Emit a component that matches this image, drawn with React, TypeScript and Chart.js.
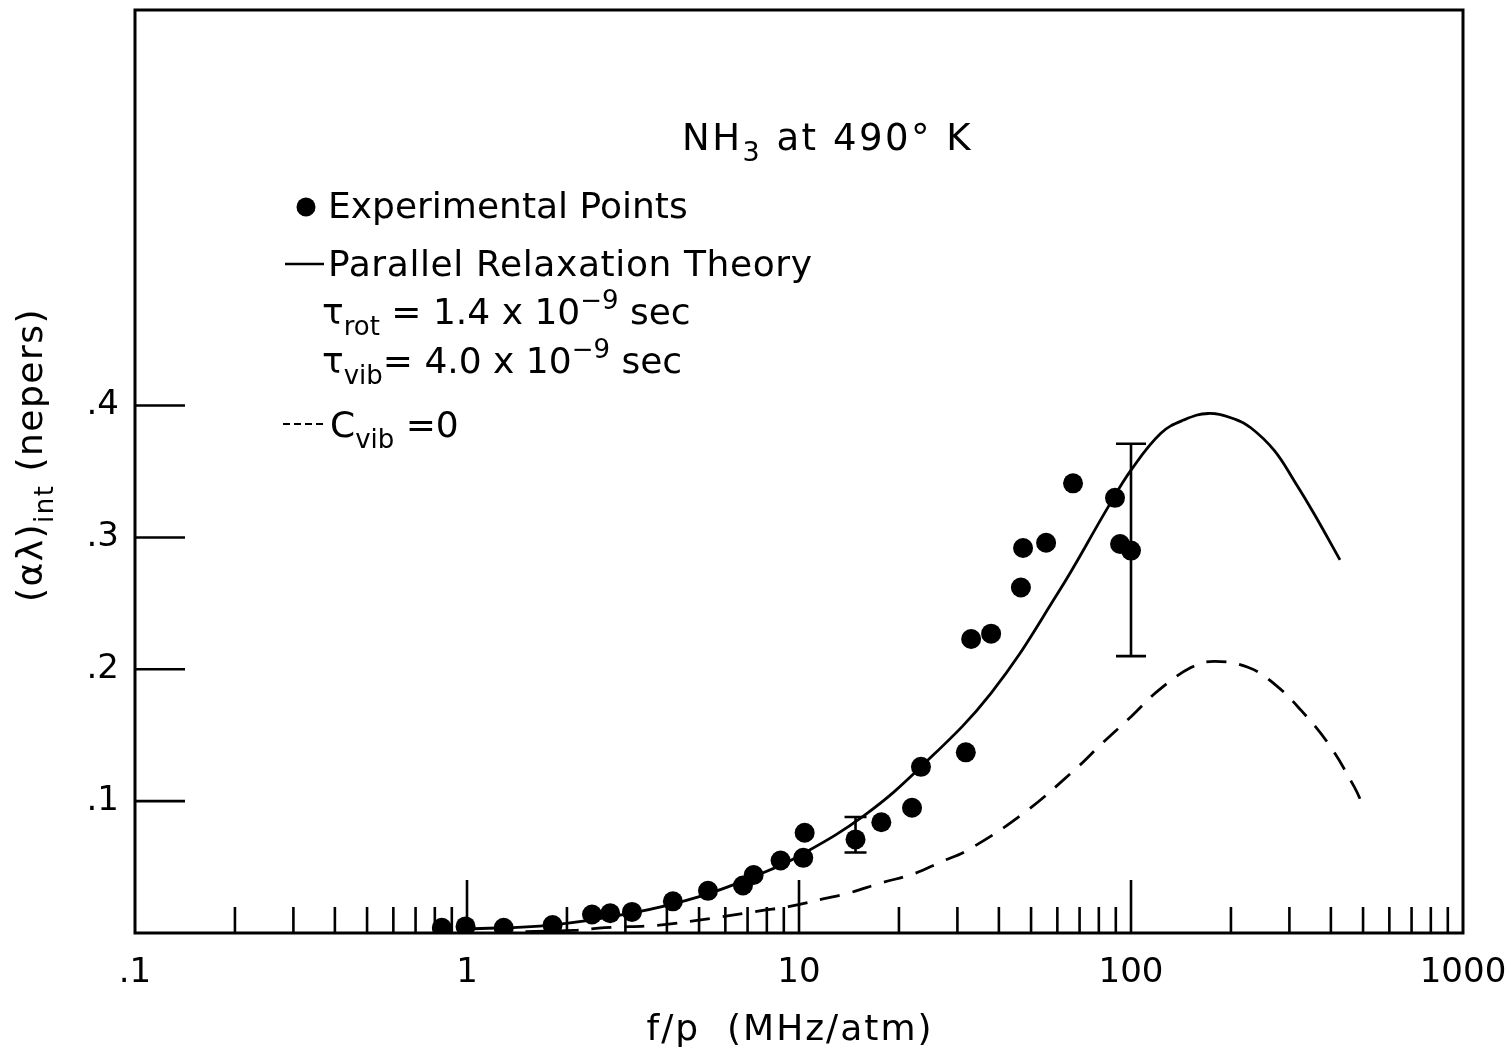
import React, { useEffect, useRef } from "react";
import { Chart, registerables } from "chart.js";

Chart.register(...registerables);

// ---------- data ----------
const expX = [0.84, 0.99, 1.29, 1.81, 2.38, 2.7, 3.14, 4.17, 5.32, 6.78, 7.3, 8.8, 10.3, 10.4, 14.8, 17.7, 21.9, 23.3, 31.8, 33.0, 37.9, 46.6, 47.3, 55.5, 66.9, 89.5, 92.7, 100];
const expY = [0.004, 0.005, 0.004, 0.006, 0.014, 0.015, 0.016, 0.024, 0.032, 0.036, 0.044, 0.055, 0.057, 0.076, 0.071, 0.084, 0.095, 0.126, 0.137, 0.223, 0.227, 0.262, 0.292, 0.296, 0.341, 0.330, 0.295, 0.290];

const theoryX = [1.0, 1.79, 3.12, 5.07, 7.69, 10.1, 15.7, 23.3, 37.9, 60.3, 85.3, 100, 123, 144, 171, 204, 230, 270, 310, 356, 426];
const theoryY = [0.003, 0.006, 0.015, 0.028, 0.045, 0.059, 0.089, 0.126, 0.182, 0.258, 0.323, 0.351, 0.379, 0.389, 0.394, 0.390, 0.383, 0.366, 0.343, 0.318, 0.283];

const cvibX = [1.5, 2.1, 2.6, 3.8, 5.4, 7.7, 9.3, 11.9, 14.0, 17.7, 22.2, 26.8, 32.3, 47.6, 69.2, 81.2, 100, 121, 152, 178, 225, 270, 325, 392, 470, 503];
const cvibY = [0.001, 0.002, 0.004, 0.006, 0.011, 0.017, 0.020, 0.026, 0.030, 0.038, 0.045, 0.054, 0.063, 0.091, 0.126, 0.143, 0.164, 0.184, 0.2015, 0.206, 0.2015, 0.189, 0.169, 0.144, 0.111, 0.095];

const errX = [14.8, 100];
const errLow = [0.061, 0.21];
const errHigh = [0.088, 0.371];

const xTickValues = [0.1, 1, 10, 100, 1000];
const xTickLabels = [".1", "1", "10", "100", "1000"];
const yTickValues = [0.1, 0.2, 0.3, 0.4];
const yTickLabels = [".1", ".2", ".3", ".4"];

// ---------- styling ----------
const FONT = "'DejaVu Sans', 'Open Sans', sans-serif";
const ERR_CAP_HALF = [11, 15];

type Seg = [string, ("n" | "sub" | "sup")?];

function drawRich(ctx: CanvasRenderingContext2D, x: number, y: number, segs: Seg[], size: number, align: "left" | "center" = "left") {
  const widthOf = (s: Seg) => {
    const k = s[1] || "n";
    ctx.font = `${k === "n" ? size : Math.round(size * 0.72)}px ${FONT}`;
    return ctx.measureText(s[0]).width;
  };
  let total = 0;
  segs.forEach((s) => (total += widthOf(s)));
  let cx = align === "center" ? x - total / 2 : x;
  ctx.textAlign = "left";
  ctx.textBaseline = "alphabetic";
  segs.forEach((s) => {
    const k = s[1] || "n";
    const w = widthOf(s);
    const dy = k === "sub" ? size * 0.3 : k === "sup" ? -size * 0.42 : 0;
    ctx.fillText(s[0], cx, y + dy);
    cx += w;
  });
}

const decorPlugin = {
  id: "decor",
  afterDatasetsDraw(chart: any) {
    const ctx: CanvasRenderingContext2D = chart.ctx;
    const { left, top, right, bottom } = chart.chartArea;
    const xs = chart.scales.x;
    const ys = chart.scales.y;
    ctx.save();
    ctx.strokeStyle = "#000";
    ctx.fillStyle = "#000";
    ctx.lineCap = "butt";

    // frame
    ctx.lineWidth = 3;
    ctx.strokeRect(left, top, right - left, bottom - top);

    // x ticks (inside, pointing up)
    ctx.lineWidth = 2.6;
    for (let d = -1; d < 3; d++) {
      for (let m = 1; m <= 9; m++) {
        if (d === -1 && m === 1) continue;
        const v = m * Math.pow(10, d);
        const px = xs.getPixelForValue(v);
        const len = m === 1 ? 53 : 26;
        ctx.beginPath();
        ctx.moveTo(px, bottom);
        ctx.lineTo(px, bottom - len);
        ctx.stroke();
      }
    }
    // y ticks (inside, pointing right)
    yTickValues.forEach((v) => {
      const py = ys.getPixelForValue(v);
      ctx.beginPath();
      ctx.moveTo(left, py);
      ctx.lineTo(left + 50, py);
      ctx.stroke();
    });

    // error bars
    errX.forEach((xv, i) => {
      const px = xs.getPixelForValue(xv);
      const y1 = ys.getPixelForValue(errLow[i]);
      const y2 = ys.getPixelForValue(errHigh[i]);
      const h = ERR_CAP_HALF[i];
      ctx.beginPath();
      ctx.moveTo(px, y1);
      ctx.lineTo(px, y2);
      ctx.moveTo(px - h, y1);
      ctx.lineTo(px + h, y1);
      ctx.moveTo(px - h, y2);
      ctx.lineTo(px + h, y2);
      ctx.stroke();
    });
    ctx.restore();
  },
  afterDraw(chart: any) {
    const ctx: CanvasRenderingContext2D = chart.ctx;
    ctx.save();
    ctx.fillStyle = "#000";
    ctx.strokeStyle = "#000";

    // title
    (ctx as any).letterSpacing = "2.5px";
    drawRich(ctx, 682, 150, [["NH"], ["3", "sub"], [" at 490° K"]], 37);
    (ctx as any).letterSpacing = "0px";

    // legend
    ctx.beginPath();
    ctx.arc(306, 207, 9.5, 0, Math.PI * 2);
    ctx.fill();
    drawRich(ctx, 328, 218, [["Experimental Points"]], 36);

    ctx.lineWidth = 2.6;
    ctx.beginPath();
    ctx.moveTo(285, 264);
    ctx.lineTo(324, 264);
    ctx.stroke();
    (ctx as any).letterSpacing = "0.6px";
    drawRich(ctx, 328, 276, [["Parallel Relaxation Theory"]], 36);
    (ctx as any).letterSpacing = "0px";

    drawRich(ctx, 322, 324, [["τ"], ["rot", "sub"], [" = 1.4 x 10"], ["−9", "sup"], [" sec"]], 36);
    drawRich(ctx, 322, 373, [["τ"], ["vib", "sub"], ["= 4.0 x 10"], ["−9", "sup"], [" sec"]], 36);

    ctx.setLineDash([7, 4]);
    ctx.lineWidth = 2;
    ctx.beginPath();
    ctx.moveTo(283, 424);
    ctx.lineTo(326, 424);
    ctx.stroke();
    ctx.setLineDash([]);
    drawRich(ctx, 330, 437, [["C"], ["vib", "sub"], [" =0"]], 36);

    // x axis title
    (ctx as any).letterSpacing = "2px";
    drawRich(ctx, 790, 1040, [["f/p  (MHz/atm)"]], 36, "center");
    (ctx as any).letterSpacing = "1.5px";

    // y axis title (rotated)
    ctx.translate(29, 455);
    ctx.rotate(-Math.PI / 2);
    drawRich(ctx, 0, 13, [["(αλ)"], ["int", "sub"], [" (nepers)"]], 36, "center");
    (ctx as any).letterSpacing = "0px";
    ctx.restore();
  },
};

export default function App() {
  const ref = useRef<HTMLCanvasElement | null>(null);
  useEffect(() => {
    document.body.style.margin = "0";
    const canvas = ref.current!;
    const chart = new Chart(canvas, {
      type: "scatter",
      data: {
        datasets: [
          {
            label: "Experimental Points",
            data: expX.map((x, i) => ({ x, y: expY[i] })),
            pointRadius: 10,
            pointBackgroundColor: "#000",
            pointBorderWidth: 0,
            showLine: false,
            clip: 0,
          } as any,
          {
            label: "Parallel Relaxation Theory",
            data: theoryX.map((x, i) => ({ x, y: theoryY[i] })),
            showLine: true,
            borderColor: "#000",
            borderWidth: 2.8,
            pointRadius: 0,
            tension: 0.4,
            fill: false,
          } as any,
          {
            label: "Cvib = 0",
            data: cvibX.map((x, i) => ({ x, y: cvibY[i] })),
            showLine: true,
            borderColor: "#000",
            borderWidth: 2.8,
            borderDash: [20, 13],
            pointRadius: 0,
            tension: 0.4,
            fill: false,
          } as any,
        ],
      },
      options: {
        responsive: false,
        animation: false,
        devicePixelRatio: 1,
        layout: { padding: { top: 8, right: 48, left: 0, bottom: 0 } },
        plugins: { legend: { display: false }, tooltip: { enabled: false } },
        scales: {
          x: {
            type: "logarithmic",
            min: 0.1,
            max: 1000,
            grid: { display: false, drawTicks: false },
            border: { display: false },
            afterBuildTicks: (s: any) => {
              s.ticks = xTickValues.map((v) => ({ value: v }));
            },
            afterFit: (s: any) => {
              s.height = 119;
              s.paddingLeft = 0;
              s.paddingRight = 0;
            },
            ticks: {
              autoSkip: false,
              maxRotation: 0,
              minRotation: 0,
              padding: 20,
              color: "#000",
              font: { family: FONT, size: 34 },
              callback: (_v: any, i: number) => xTickLabels[i],
            },
          },
          y: {
            type: "linear",
            min: 0,
            max: 0.7,
            grid: { display: false, drawTicks: false },
            border: { display: false },
            afterBuildTicks: (s: any) => {
              s.ticks = yTickValues.map((v) => ({ value: v }));
            },
            afterFit: (s: any) => {
              s.width = 135;
              s.paddingTop = 0;
              s.paddingBottom = 0;
            },
            ticks: {
              padding: 16,
              color: "#000",
              font: { family: FONT, size: 34 },
              callback: (_v: any, i: number) => yTickLabels[i],
            },
          },
        },
      } as any,
      plugins: [decorPlugin],
    });
    return () => chart.destroy();
  }, []);
  return (
    <div style={{ width: 1511, height: 1052, background: "#fff" }}>
      <canvas ref={ref} width={1511} height={1052} style={{ display: "block" }} />
    </div>
  );
}
